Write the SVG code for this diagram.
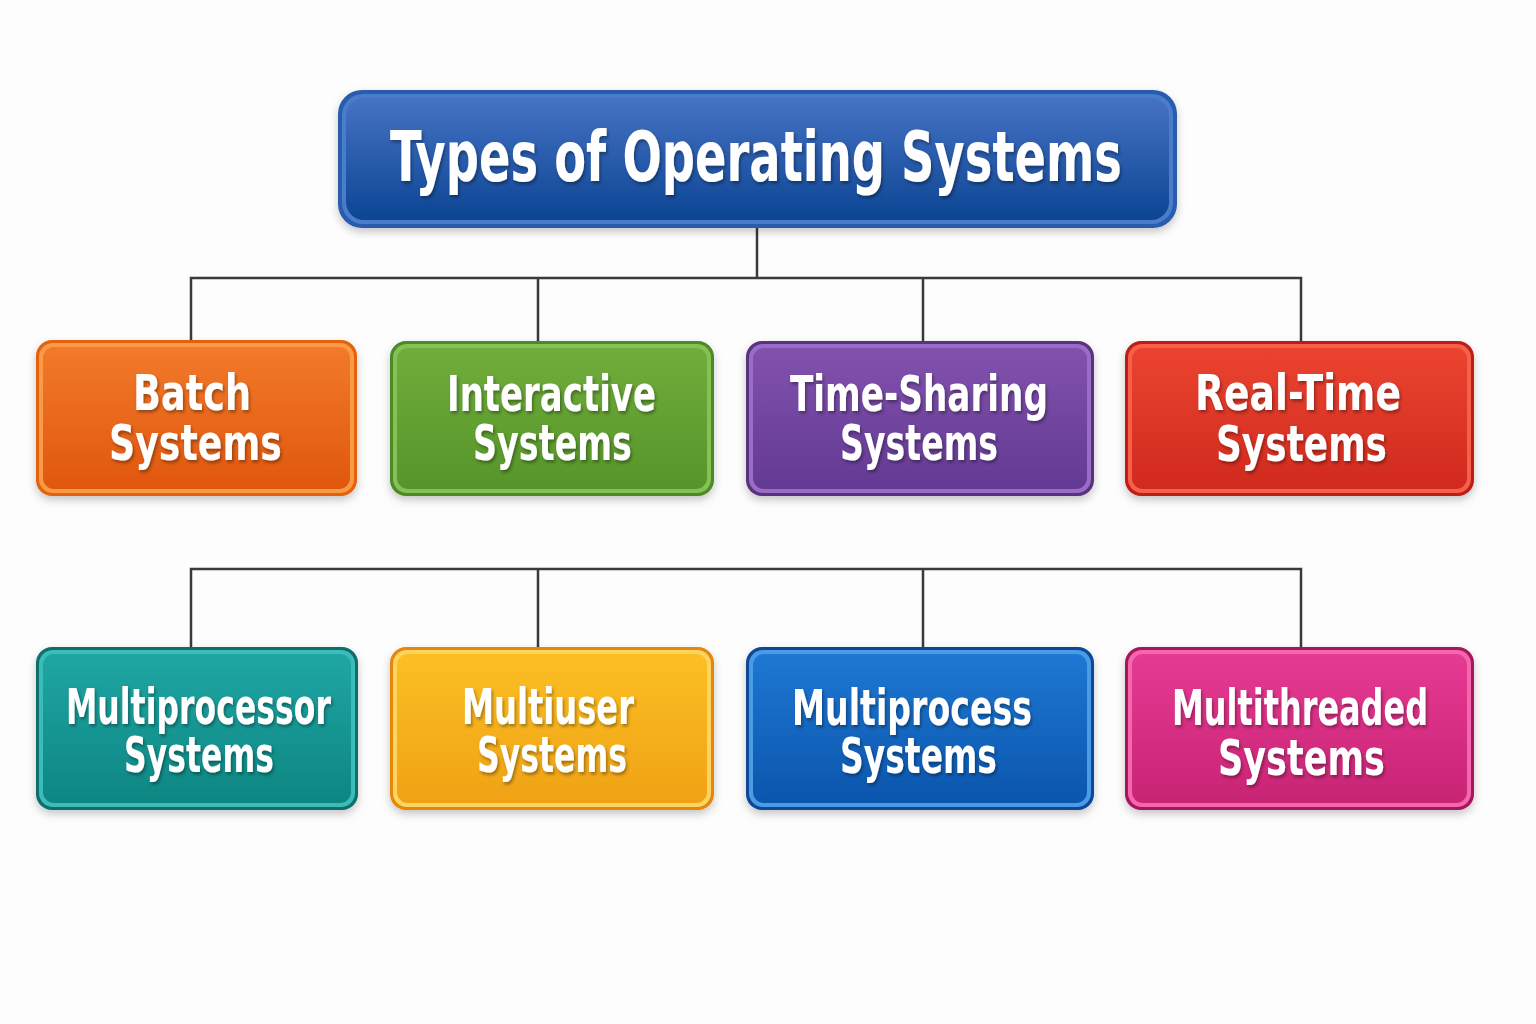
<svg xmlns="http://www.w3.org/2000/svg" width="1536" height="1024" viewBox="0 0 1536 1024">
<style>
.t{font-family:"Liberation Sans Narrow","DejaVu Sans Condensed","Liberation Sans",sans-serif;font-weight:bold;fill:#ffffff;text-anchor:middle;filter:url(#ts)}
.n{font-size:50px}
.title{font-size:70px}
.c{fill:none;stroke:#3a3a3a;stroke-width:2.5}
</style>
<defs>
<filter id="ts" x="-20%" y="-50%" width="140%" height="200%"><feDropShadow dx="1.5" dy="2.5" stdDeviation="1.5" flood-color="#000" flood-opacity="0.35"/></filter>
<filter id="bs" x="-5%" y="-10%" width="110%" height="125%"><feDropShadow dx="0" dy="4" stdDeviation="4" flood-color="#000" flood-opacity="0.22"/></filter>
<linearGradient id="gT" x1="0" y1="0" x2="0" y2="1"><stop offset="0" stop-color="#4672c4"/><stop offset="1" stop-color="#0b4593"/></linearGradient>
<linearGradient id="g1" x1="0" y1="0" x2="0" y2="1"><stop offset="0" stop-color="#f27a2a"/><stop offset="1" stop-color="#e0570e"/></linearGradient>
<linearGradient id="g2" x1="0" y1="0" x2="0" y2="1"><stop offset="0" stop-color="#70ad3c"/><stop offset="1" stop-color="#56952a"/></linearGradient>
<linearGradient id="g3" x1="0" y1="0" x2="0" y2="1"><stop offset="0" stop-color="#8152ad"/><stop offset="1" stop-color="#633a93"/></linearGradient>
<linearGradient id="g4" x1="0" y1="0" x2="0" y2="1"><stop offset="0" stop-color="#ea4430"/><stop offset="1" stop-color="#d12a1e"/></linearGradient>
<linearGradient id="g5" x1="0" y1="0" x2="0" y2="1"><stop offset="0" stop-color="#1fa6a4"/><stop offset="1" stop-color="#0d8682"/></linearGradient>
<linearGradient id="g6" x1="0" y1="0" x2="0" y2="1"><stop offset="0" stop-color="#fbbf24"/><stop offset="1" stop-color="#f0a214"/></linearGradient>
<linearGradient id="g7" x1="0" y1="0" x2="0" y2="1"><stop offset="0" stop-color="#1e78d2"/><stop offset="1" stop-color="#0b55ad"/></linearGradient>
<linearGradient id="g8" x1="0" y1="0" x2="0" y2="1"><stop offset="0" stop-color="#e63a93"/><stop offset="1" stop-color="#c82474"/></linearGradient>
</defs>
<rect width="1536" height="1024" fill="#fdfdfd"/>

<g id="connectors">
<path class="c" d="M757 228 V278 M191 340 V278 H1301 V341 M538 278 V341 M923 278 V341"/>
<path class="c" d="M191 648 V569 H1301 V648 M538 569 V648 M923 569 V648"/>
</g>

<g id="title">
<rect x="338" y="90" width="839" height="138" rx="24" fill="#2a5cae" filter="url(#bs)"/>
<rect x="342" y="94" width="831" height="130" rx="21" fill="#4a7ccc"/>
<rect x="346" y="98" width="823" height="122" rx="18" fill="url(#gT)"/>
<text class="t title" x="756" y="181" textLength="732" lengthAdjust="spacingAndGlyphs">Types of Operating Systems</text>
</g>

<g id="batch">
<rect x="36" y="340" width="321" height="156" rx="16" fill="#e2620f" filter="url(#bs)"/>
<rect x="39" y="343" width="315" height="150" rx="14" fill="#f99b45"/>
<rect x="43" y="347" width="307" height="142" rx="11" fill="url(#g1)"/>
<text class="t n" x="192" y="410" textLength="118" lengthAdjust="spacingAndGlyphs">Batch</text>
<text class="t n" x="195.5" y="460" textLength="173" lengthAdjust="spacingAndGlyphs">Systems</text>
</g>

<g id="interactive">
<rect x="390" y="341" width="324" height="155" rx="16" fill="#4d8a26" filter="url(#bs)"/>
<rect x="393" y="344" width="318" height="149" rx="14" fill="#86c157"/>
<rect x="397" y="348" width="310" height="141" rx="11" fill="url(#g2)"/>
<text class="t n" x="551.5" y="411" textLength="209" lengthAdjust="spacingAndGlyphs">Interactive</text>
<text class="t n" x="552.5" y="460" textLength="159" lengthAdjust="spacingAndGlyphs">Systems</text>
</g>

<g id="timesharing">
<rect x="746" y="341" width="348" height="155" rx="16" fill="#56307f" filter="url(#bs)"/>
<rect x="749" y="344" width="342" height="149" rx="14" fill="#9a6cc6"/>
<rect x="753" y="348" width="334" height="141" rx="11" fill="url(#g3)"/>
<text class="t n" x="919" y="411" textLength="258" lengthAdjust="spacingAndGlyphs">Time-Sharing</text>
<text class="t n" x="919" y="460" textLength="158" lengthAdjust="spacingAndGlyphs">Systems</text>
</g>

<g id="realtime">
<rect x="1125" y="341" width="349" height="155" rx="16" fill="#bf1d16" filter="url(#bs)"/>
<rect x="1128" y="344" width="343" height="149" rx="14" fill="#f4604a"/>
<rect x="1132" y="348" width="335" height="141" rx="11" fill="url(#g4)"/>
<text class="t n" x="1298" y="410" textLength="206" lengthAdjust="spacingAndGlyphs">Real-Time</text>
<text class="t n" x="1301.5" y="461" textLength="171" lengthAdjust="spacingAndGlyphs">Systems</text>
</g>

<g id="multiprocessor">
<rect x="36" y="647" width="322" height="163" rx="16" fill="#0b6e6c" filter="url(#bs)"/>
<rect x="39" y="650" width="316" height="157" rx="14" fill="#3cbcb8"/>
<rect x="43" y="654" width="308" height="149" rx="11" fill="url(#g5)"/>
<text class="t n" x="198.5" y="724" textLength="265" lengthAdjust="spacingAndGlyphs">Multiprocessor</text>
<text class="t n" x="199" y="772" textLength="150" lengthAdjust="spacingAndGlyphs">Systems</text>
</g>

<g id="multiuser">
<rect x="390" y="647" width="324" height="163" rx="16" fill="#e5860c" filter="url(#bs)"/>
<rect x="393" y="650" width="318" height="157" rx="14" fill="#fdd460"/>
<rect x="397" y="654" width="310" height="149" rx="11" fill="url(#g6)"/>
<text class="t n" x="548" y="724" textLength="172" lengthAdjust="spacingAndGlyphs">Multiuser</text>
<text class="t n" x="552" y="772" textLength="150" lengthAdjust="spacingAndGlyphs">Systems</text>
</g>

<g id="multiprocess">
<rect x="746" y="647" width="348" height="163" rx="16" fill="#0a4796" filter="url(#bs)"/>
<rect x="749" y="650" width="342" height="157" rx="14" fill="#4a9be6"/>
<rect x="753" y="654" width="334" height="149" rx="11" fill="url(#g7)"/>
<text class="t n" x="912" y="725" textLength="240" lengthAdjust="spacingAndGlyphs">Multiprocess</text>
<text class="t n" x="918.5" y="773" textLength="157" lengthAdjust="spacingAndGlyphs">Systems</text>
</g>

<g id="multithreaded">
<rect x="1125" y="647" width="349" height="163" rx="16" fill="#a8155a" filter="url(#bs)"/>
<rect x="1128" y="650" width="343" height="157" rx="14" fill="#f267ae"/>
<rect x="1132" y="654" width="335" height="149" rx="11" fill="url(#g8)"/>
<text class="t n" x="1300" y="725" textLength="256" lengthAdjust="spacingAndGlyphs">Multithreaded</text>
<text class="t n" x="1301.5" y="775" textLength="167" lengthAdjust="spacingAndGlyphs">Systems</text>
</g>
</svg>
